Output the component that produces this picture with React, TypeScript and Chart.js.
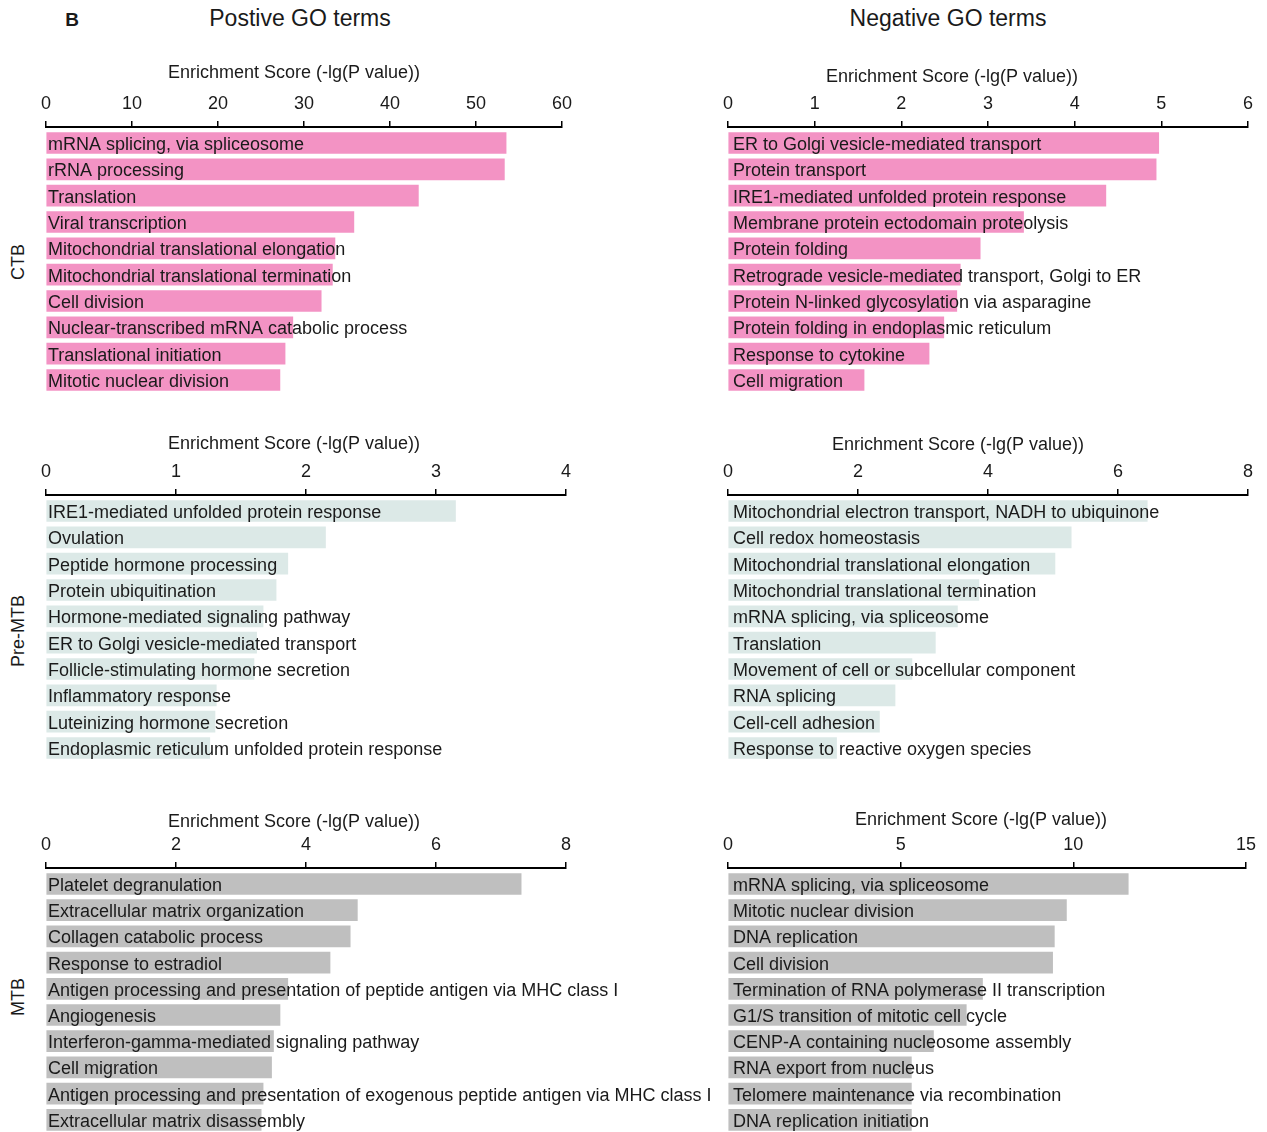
import React, { useEffect, useRef } from "react";
import { Chart, registerables } from "chart.js";

Chart.register(...registerables);

const FONT = '"Liberation Sans", Arial, Helvetica, sans-serif';

// ---------- data ----------
const ctbPosLabels = [
  "mRNA splicing, via spliceosome",
  "rRNA processing",
  "Translation",
  "Viral transcription",
  "Mitochondrial translational elongation",
  "Mitochondrial translational termination",
  "Cell division",
  "Nuclear-transcribed mRNA catabolic process",
  "Translational initiation",
  "Mitotic nuclear division",
];
const ctbPosValues = [53.5, 53.3, 43.3, 35.8, 33.6, 33.3, 32.0, 28.7, 27.8, 27.2];

const ctbNegLabels = [
  "ER to Golgi vesicle-mediated transport",
  "Protein transport",
  "IRE1-mediated unfolded protein response",
  "Membrane protein ectodomain proteolysis",
  "Protein folding",
  "Retrograde vesicle-mediated transport, Golgi to ER",
  "Protein N-linked glycosylation via asparagine",
  "Protein folding in endoplasmic reticulum",
  "Response to cytokine",
  "Cell migration",
];
const ctbNegValues = [4.97, 4.94, 4.36, 3.41, 2.91, 2.68, 2.64, 2.49, 2.32, 1.57];

const preMtbPosLabels = [
  "IRE1-mediated unfolded protein response",
  "Ovulation",
  "Peptide hormone processing",
  "Protein ubiquitination",
  "Hormone-mediated signaling pathway",
  "ER to Golgi vesicle-mediated transport",
  "Follicle-stimulating hormone secretion",
  "Inflammatory response",
  "Luteinizing hormone secretion",
  "Endoplasmic reticulum unfolded protein response",
];
const preMtbPosValues = [3.15, 2.15, 1.86, 1.77, 1.67, 1.62, 1.6, 1.31, 1.3, 1.26];

const preMtbNegLabels = [
  "Mitochondrial electron transport, NADH to ubiquinone",
  "Cell redox homeostasis",
  "Mitochondrial translational elongation",
  "Mitochondrial translational termination",
  "mRNA splicing, via spliceosome",
  "Translation",
  "Movement of cell or subcellular component",
  "RNA splicing",
  "Cell-cell adhesion",
  "Response to reactive oxygen species",
];
const preMtbNegValues = [6.45, 5.28, 5.03, 3.86, 3.53, 3.19, 2.83, 2.57, 2.33, 1.67];

const mtbPosLabels = [
  "Platelet degranulation",
  "Extracellular matrix organization",
  "Collagen catabolic process",
  "Response to estradiol",
  "Antigen processing and presentation of peptide antigen via MHC class I",
  "Angiogenesis",
  "Interferon-gamma-mediated signaling pathway",
  "Cell migration",
  "Antigen processing and presentation of exogenous peptide antigen via MHC class I",
  "Extracellular matrix disassembly",
];
const mtbPosValues = [7.31, 4.79, 4.68, 4.37, 3.72, 3.6, 3.5, 3.47, 3.34, 3.31];

const mtbNegLabels = [
  "mRNA splicing, via spliceosome",
  "Mitotic nuclear division",
  "DNA replication",
  "Cell division",
  "Termination of RNA polymerase II transcription",
  "G1/S transition of mitotic cell cycle",
  "CENP-A containing nucleosome assembly",
  "RNA export from nucleus",
  "Telomere maintenance via recombination",
  "DNA replication initiation",
];
const mtbNegValues = [11.59, 9.8, 9.45, 9.4, 7.37, 6.9, 5.95, 5.31, 5.31, 5.31];

const axisTitle = "Enrichment Score (-lg(P value))";
const columnTitles = ["Postive GO terms", "Negative GO terms"];
const rowTitles = ["CTB", "Pre-MTB", "MTB"];

// ---------- layout / style ----------
const PINK = "#f393c4";
const TEAL = "#dce9e7";
const GREY = "#bfbfbf";

type Panel = {
  labels: string[];
  values: number[];
  max: number;
  step: number;
  color: string;
  left: number;
  top: number;
  width: number;
  height: number;
  areaLeft: number;
  areaRight: number;
  line: number;
  rowStep: number;
  yMax: number;
  titleX: number;
  titleY: number;
  textPad: number;
};

const panels: Panel[] = [
  { labels: ctbPosLabels, values: ctbPosValues, max: 60, step: 10, color: PINK,
    left: 0, top: 40, width: 725, height: 370, areaLeft: 46, areaRight: 562, line: 127,
    rowStep: 26.33, yMax: 9.5, titleX: 294, titleY: 73, textPad: 2 },
  { labels: ctbNegLabels, values: ctbNegValues, max: 6, step: 1, color: PINK,
    left: 640, top: 40, width: 627, height: 370, areaLeft: 728, areaRight: 1248, line: 127,
    rowStep: 26.33, yMax: 9.5, titleX: 952, titleY: 77, textPad: 5 },
  { labels: preMtbPosLabels, values: preMtbPosValues, max: 4, step: 1, color: TEAL,
    left: 0, top: 415, width: 725, height: 360, areaLeft: 46, areaRight: 566, line: 495,
    rowStep: 26.33, yMax: 9.5, titleX: 294, titleY: 444, textPad: 2 },
  { labels: preMtbNegLabels, values: preMtbNegValues, max: 8, step: 2, color: TEAL,
    left: 640, top: 415, width: 627, height: 360, areaLeft: 728, areaRight: 1248, line: 495,
    rowStep: 26.33, yMax: 9.5, titleX: 958, titleY: 445, textPad: 5 },
  { labels: mtbPosLabels, values: mtbPosValues, max: 8, step: 2, color: GREY,
    left: 0, top: 790, width: 725, height: 342, areaLeft: 46, areaRight: 566, line: 868,
    rowStep: 26.2, yMax: 9.4, titleX: 294, titleY: 822, textPad: 2 },
  { labels: mtbNegLabels, values: mtbNegValues, max: 15, step: 5, color: GREY,
    left: 640, top: 790, width: 627, height: 342, areaLeft: 728, areaRight: 1246, line: 868,
    rowStep: 26.2, yMax: 9.4, titleX: 981, titleY: 820, textPad: 5 },
];

const SCALE_H = 40;

function PanelChart({ p }: { p: Panel }) {
  const ref = useRef<HTMLCanvasElement>(null);
  useEffect(() => {
    const canvas = ref.current;
    if (!canvas) return;
    const yMin = -16 / p.rowStep;
    const areaTop = p.line - p.top;
    const areaH = (p.yMax - yMin) * p.rowStep;
    const padTop = areaTop - SCALE_H;
    const padBottom = p.height - (areaTop + areaH);

    const labelPlugin = {
      id: "goLabels",
      afterDatasetsDraw(chart: any) {
        const ctx = chart.ctx;
        const meta = chart.getDatasetMeta(0);
        ctx.save();
        ctx.font = `18px ${FONT}`;
        ctx.fillStyle = "#1a1a1a";
        ctx.textAlign = "left";
        ctx.textBaseline = "alphabetic";
        meta.data.forEach((el: any, i: number) => {
          ctx.fillText(p.labels[i], chart.chartArea.left + p.textPad, el.y + 7);
        });
        ctx.restore();
      },
      afterDraw(chart: any) {
        const ctx = chart.ctx;
        ctx.save();
        ctx.font = `18px ${FONT}`;
        ctx.fillStyle = "#1a1a1a";
        ctx.textAlign = "center";
        ctx.textBaseline = "middle";
        ctx.fillText(axisTitle, p.titleX - p.left, p.titleY - p.top);
        ctx.restore();
      },
    };

    const chart = new Chart(canvas, {
      type: "bar",
      data: {
        datasets: [
          {
            data: p.values.map((v, i) => ({ x: v, y: i })),
            backgroundColor: p.color,
            borderWidth: 0,
            barThickness: 21,
            clip: false,
          } as any,
        ],
      },
      options: {
        indexAxis: "y",
        responsive: false,
        animation: false,
        devicePixelRatio: 1,
        layout: {
          padding: {
            left: p.areaLeft - p.left,
            right: p.left + p.width - p.areaRight,
            top: padTop,
            bottom: padBottom,
          },
        },
        plugins: {
          legend: { display: false },
          tooltip: { enabled: false },
        },
        scales: {
          x: {
            type: "linear",
            position: "top",
            bounds: "data",
            offset: false,
            min: 0,
            max: p.max,
            ticks: {
              stepSize: p.step,
              padding: 6,
              color: "#1a1a1a",
              font: { size: 18, family: FONT },
              maxRotation: 0,
            },
            grid: {
              drawOnChartArea: false,
              drawTicks: true,
              tickLength: 6,
              color: "#000",
              lineWidth: 1.5,
              offset: false,
            },
            border: { display: true, color: "#000", width: 2 },
            afterFit: (scale: any) => {
              scale.height = SCALE_H;
            },
          },
          y: {
            type: "linear",
            reverse: true,
            bounds: "data",
            offset: false,
            min: yMin,
            max: p.yMax,
            display: false,
            grid: { offset: false },
            ticks: { stepSize: 1, includeBounds: false } as any,
          },
        },
      } as any,
      plugins: [labelPlugin],
    });
    return () => chart.destroy();
  }, [p]);

  return (
    <canvas
      ref={ref}
      width={p.width}
      height={p.height}
      style={{
        position: "absolute",
        left: p.left,
        top: p.top,
        width: p.width,
        height: p.height,
      }}
    />
  );
}

const rowLabelY = [262, 631, 997];

export default function App() {
  return (
    <div
      style={{
        position: "absolute",
        left: 0,
        top: 0,
        width: 1267,
        height: 1132,
        overflow: "hidden",
        background: "#fff",
        fontFamily: FONT,
        color: "#1a1a1a",
      }}
    >
      <div
        style={{
          position: "absolute",
          left: 72,
          top: 20,
          transform: "translate(-50%, -50%)",
          fontWeight: "bold",
          fontSize: 19,
          whiteSpace: "nowrap",
        }}
      >
        B
      </div>
      {columnTitles.map((t, i) => (
        <div
          key={t}
          style={{
            position: "absolute",
            left: i === 0 ? 300 : 948,
            top: 18,
            transform: "translate(-50%, -50%)",
            fontSize: 23,
            whiteSpace: "nowrap",
          }}
        >
          {t}
        </div>
      ))}
      {rowTitles.map((t, i) => (
        <div
          key={t}
          style={{
            position: "absolute",
            left: 18,
            top: rowLabelY[i],
            transform: "translate(-50%, -50%) rotate(-90deg)",
            fontSize: 18,
            whiteSpace: "nowrap",
            lineHeight: "20px",
          }}
        >
          {t}
        </div>
      ))}
      {panels.map((p, i) => (
        <PanelChart key={i} p={p} />
      ))}
    </div>
  );
}
